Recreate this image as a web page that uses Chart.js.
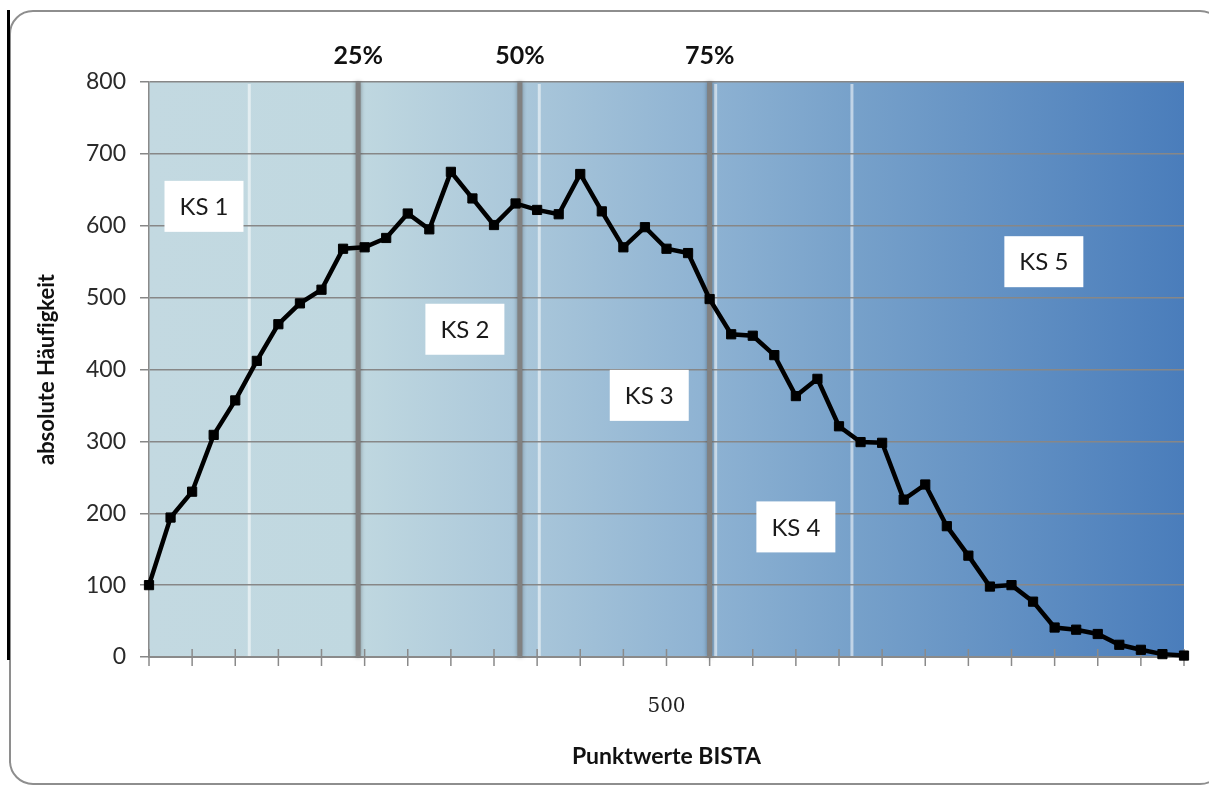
<!DOCTYPE html>
<html>
<head>
<meta charset="utf-8">
<script src="https://cdn.jsdelivr.net/npm/chart.js@4/dist/chart.umd.min.js"></script>
<style>
  html, body { margin: 0; padding: 0; background: #fff; }
  #wrap { position: relative; width: 1209px; height: 787px; overflow: hidden; }
  #frame {
    position: absolute; left: 9px; top: 10px; width: 1215px; height: 775px;
    border: 2px solid #8e8e8e; border-radius: 24px; box-sizing: border-box;
  }
  #edge { position: absolute; left: 7px; top: 10px; width: 3px; height: 650px; background: #000; }
  canvas { position: absolute; left: 0; top: 0; }
</style>
</head>
<body>
<div id="wrap">
  <div id="frame"></div>
  <div id="edge"></div>
  <canvas id="chart" width="1209" height="787"></canvas>
</div>
<script>
// BISTA scores on the x axis, one point per 10 points
const scores = [260, 270, 280, 290, 300, 310, 320, 330, 340, 350, 360, 370, 380, 390, 400, 410, 420,
  430, 440, 450, 460, 470, 480, 490, 500, 510, 520, 530, 540, 550, 560, 570, 580, 590, 600, 610,
  620, 630, 640, 650, 660, 670, 680, 690, 700, 710, 720, 730, 740];
const counts = [100, 194, 230, 309, 357, 412, 463, 492, 511, 568, 570, 583, 617, 595, 675, 638, 601,
  631, 622, 616, 672, 620, 570, 598, 568, 562, 498, 449, 447, 420, 363, 387, 321, 299, 298, 219,
  240, 182, 141, 98, 100, 77, 41, 38, 32, 17, 10, 4, 2];
const yTicks = [0, 100, 200, 300, 400, 500, 600, 700, 800];

// quartiles and level borders, in score units
const quartileNames = ["25%", "50%", "75%"];
const quartileScores = [357, 432, 520];
const levelBorders = [306.5, 441, 522.8, 586];
const levelNames = ["KS 1", "KS 2", "KS 3", "KS 4", "KS 5"];
const levelLabelAt = [[285.5, 627], [406.5, 456], [492, 364], [560, 181], [675, 550]];

const font = "Lato, 'Open Sans', sans-serif";

const decor = {
  id: "decor",
  beforeDraw(chart) {
    const { ctx, chartArea: a } = chart;
    const x = chart.scales.x;
    const g = ctx.createLinearGradient(a.left, 0, a.right, 0);
    g.addColorStop(0, "#c3d9e1");
    g.addColorStop(0.2, "#c0d8e0");
    g.addColorStop(0.36, "#aac7da");
    g.addColorStop(0.55, "#8cb1d2");
    g.addColorStop(0.68, "#77a1ca");
    g.addColorStop(1, "#4a7dbb");
    ctx.save();
    ctx.fillStyle = g;
    ctx.fillRect(a.left, a.top, a.right - a.left, a.bottom - a.top);
    ctx.strokeStyle = "rgba(255,255,255,0.55)";
    ctx.lineWidth = 3;
    levelBorders.forEach((s) => {
      const px = x.getPixelForValue(s);
      ctx.beginPath();
      ctx.moveTo(px, a.top + 2);
      ctx.lineTo(px, a.bottom);
      ctx.stroke();
    });
    ctx.restore();
  },
  beforeDatasetsDraw(chart) {
    const { ctx, chartArea: a } = chart;
    const x = chart.scales.x;
    const y = chart.scales.y;
    ctx.save();
    // tick marks crossing the x axis
    ctx.strokeStyle = "#8a8a8a";
    ctx.lineWidth = 1.5;
    x.ticks.forEach((t) => {
      const px = x.getPixelForValue(t.value);
      ctx.beginPath();
      ctx.moveTo(px, a.bottom - 8);
      ctx.lineTo(px, a.bottom + 9);
      ctx.stroke();
    });
    // quartile lines
    ctx.strokeStyle = "#818181";
    ctx.lineWidth = 5;
    ctx.shadowColor = "rgba(0,0,0,0.35)";
    ctx.shadowBlur = 4;
    quartileScores.forEach((s) => {
      const px = x.getPixelForValue(s);
      ctx.beginPath();
      ctx.moveTo(px, a.top);
      ctx.lineTo(px, a.bottom);
      ctx.stroke();
    });
    ctx.shadowBlur = 0;
    ctx.shadowColor = "transparent";
    // level labels
    ctx.font = "24px " + font;
    ctx.textAlign = "center";
    ctx.textBaseline = "middle";
    levelNames.forEach((name, i) => {
      const cx = x.getPixelForValue(levelLabelAt[i][0]);
      const cy = y.getPixelForValue(levelLabelAt[i][1]);
      const w = ctx.measureText(name).width + 30;
      const h = 51;
      ctx.fillStyle = "#fff";
      ctx.fillRect(cx - w / 2, cy - h / 2, w, h);
      ctx.fillStyle = "#1a1a1a";
      ctx.fillText(name, cx, cy + 1);
    });
    // quartile names above the plot
    ctx.font = "bold 25px " + font;
    ctx.fillStyle = "#111";
    quartileNames.forEach((name, i) => {
      ctx.fillText(name, x.getPixelForValue(quartileScores[i]), a.top - 26);
    });
    ctx.restore();
  },
};

new Chart(document.getElementById("chart"), {
  type: "line",
  data: {
    datasets: [{
      data: scores.map((s, i) => ({ x: s, y: counts[i] })),
      borderColor: "#000",
      borderWidth: 4.5,
      pointStyle: "rect",
      pointRadius: 6.5,
      pointBorderWidth: 1,
      pointBackgroundColor: "#000",
      pointBorderColor: "#000",
      tension: 0,
      clip: 10,
    }],
  },
  options: {
    responsive: false,
    animation: false,
    events: [],
    layout: { autoPadding: false, padding: { top: 82, right: 25, left: 10, bottom: 5 } },
    plugins: { legend: { display: false }, tooltip: { enabled: false } },
    scales: {
      x: {
        type: "linear",
        min: scores[0],
        max: scores[scores.length - 1],
        grid: { display: false },
        border: { display: true, color: "#8a8a8a", width: 2 },
        ticks: {
          stepSize: 20,
          autoSkip: false,
          maxRotation: 0,
          padding: 30,
          color: "#222",
          font: { family: "'DejaVu Serif', serif", size: 20 },
          callback: (v) => (v === 500 ? "500" : ""),
        },
        title: {
          display: true,
          text: "Punktwerte BISTA",
          color: "#111",
          font: { family: font, size: 23, weight: "bold" },
          padding: { top: 0, bottom: 12 },
        },
        afterFit: (s) => { s.height = 125; s.paddingRight = 0; s.paddingLeft = 0; },
      },
      y: {
        min: yTicks[0],
        max: yTicks[yTicks.length - 1],
        afterBuildTicks: (s) => { s.ticks = yTicks.map((v) => ({ value: v })); },
        grid: { color: "#878787", lineWidth: 1.5, tickLength: 9, drawTicks: true },
        border: { display: true, color: "#8a8a8a", width: 1.5 },
        ticks: { padding: 14, color: "#2a2a2a", font: { family: font, size: 23 } },
        title: {
          display: true,
          text: "absolute Häuf\u200Cigkeit",
          color: "#111",
          font: { family: font, size: 22, weight: "bold" },
          padding: { top: 24, bottom: 0 },
        },
        afterFit: (s) => { s.width = 139; s.paddingTop = 0; s.paddingBottom = 0; },
      },
    },
  },
  plugins: [decor],
});
</script>
</body>
</html>
